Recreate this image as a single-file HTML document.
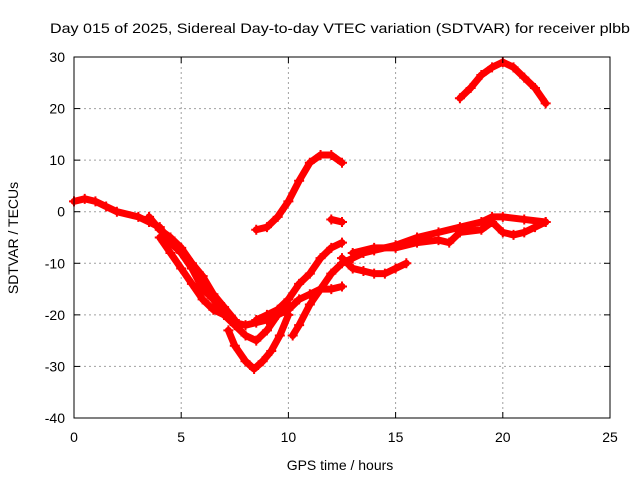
<!DOCTYPE html>
<html><head><meta charset="utf-8"><style>
body{margin:0;background:#fff}
svg{display:block;font-family:"Liberation Sans",sans-serif}
</style></head><body>
<svg id="chart" width="640" height="480">
<text x="340" y="33" text-anchor="middle" font-size="14" textLength="580" lengthAdjust="spacingAndGlyphs">Day 015 of 2025, Sidereal Day-to-day VTEC variation (SDTVAR) for receiver plbb</text>
<text x="340" y="470" text-anchor="middle" font-size="14">GPS time / hours</text>
<text transform="translate(18,238) rotate(-90)" text-anchor="middle" font-size="14">SDTVAR / TECUs</text>
<g id="grid"></g><g id="series"></g><g id="axes"></g>
</svg>
<script>
const xTicks=[0,5,10,15,20,25];
const yTicks=[30,20,10,0,-10,-20,-30,-40];
const seriesA=[[0,2],[0.5,2.5],[1,2],[1.5,1],[2,0],[3,-1],[3.5,-2],[4,-3],[4.5,-6],[5,-8],[5.5,-11],[6,-15],[6.5,-17],[7,-20],[7.5,-21.5],[8,-22],[8.5,-21.5],[9,-21],[9.5,-20],[10,-19],[10.5,-17],[11,-16],[11.5,-15],[12,-15],[12.5,-14.5]];
const seriesB=[[4,-5],[4.5,-8],[5,-11],[5.5,-14],[6,-17],[6.5,-19],[7,-20],[7.5,-22],[8,-24],[8.5,-25],[9,-23],[9.5,-20],[10,-18]];
const seriesC=[[7.2,-23],[7.5,-26],[8,-29],[8.4,-30.5],[8.8,-29],[9.2,-27],[9.6,-24],[10,-20]];
const seriesD=[[10.2,-24],[10.5,-22],[11,-18],[11.5,-15],[12,-12],[12.5,-10],[13,-9],[13.5,-8],[14,-7.5],[15,-6.5],[16,-5],[17,-4],[18,-3],[19,-2],[19.5,-1],[20,-1],[21,-1.5],[22,-2]];
const seriesE=[[8.5,-21],[9,-20],[9.5,-19],[10,-17],[10.5,-14],[11,-12],[11.5,-9],[12,-7],[12.5,-6]];
const seriesF=[[8.5,-3.5],[9,-3],[9.5,-1],[10,2],[10.5,6],[11,9.5],[11.5,11],[12,11],[12.5,9.5]];
const seriesG=[[12,-1.5],[12.5,-2]];
const seriesH=[[12.5,-9],[13,-11],[13.5,-11.5],[14,-12],[14.5,-12],[15,-11],[15.5,-10]];
const seriesI=[[13,-8],[14,-7],[15,-7],[16,-6],[17,-5.5],[17.5,-6],[18,-4],[19,-3.5],[19.5,-2],[20,-4],[20.5,-4.5],[21,-4],[21.5,-3],[22,-2]];
const seriesJ=[[18,22],[18.5,24],[19,26.5],[19.5,28],[20,29],[20.5,28],[21,26],[21.5,24],[22,21]];
const seriesK=[[3.5,-1],[4,-3.5],[4.5,-5],[5,-7],[5.5,-10],[6,-12.5],[6.5,-16],[7,-18.5],[7.5,-21]];
const allSeries=[seriesA,seriesB,seriesC,seriesD,seriesE,seriesF,seriesG,seriesH,seriesI,seriesJ,seriesK];
const X0=74,X1=610,Y0=418,Y1=57;
const xs=v=>X0+(v-0)/25*(X1-X0);
const ys=v=>Y0-(v+40)/70*(Y0-Y1);
const NS="http://www.w3.org/2000/svg";
function mk(t,a,p){const e=document.createElementNS(NS,t);for(const k in a)e.setAttribute(k,a[k]);p.appendChild(e);return e;}
const grid=document.getElementById('grid'),axes=document.getElementById('axes'),ser=document.getElementById('series');
xTicks.forEach(t=>{
 const x=xs(t);
 if(t>0&&t<25){const l=mk('line',{x1:x,x2:x,y1:Y1,y2:Y0,stroke:'#a0a0a0','stroke-dasharray':'2,3'},grid);
 
 }
 const tx=mk('text',{x:x,y:Y0+24,'text-anchor':'middle','font-size':14},axes);tx.textContent=t;
 
 
 mk('line',{x1:x,x2:x,y1:Y0,y2:Y0-6,stroke:'#000'},axes);
 mk('line',{x1:x,x2:x,y1:Y1,y2:Y1+6,stroke:'#000'},axes);
});
yTicks.forEach(t=>{
 const y=ys(t);
 if(t>-40&&t<30){const l=mk('line',{x1:X0,x2:X1,y1:y,y2:y,stroke:'#a0a0a0','stroke-dasharray':'2,3'},grid);
 
 }
 const tx=mk('text',{x:X0-9,y:y+5,'text-anchor':'end','font-size':14},axes);tx.textContent=t;
 
 
 mk('line',{x1:X0,x2:X0+6,y1:y,y2:y,stroke:'#000'},axes);
 mk('line',{x1:X1,x2:X1-6,y1:y,y2:y,stroke:'#000'},axes);
});
const fr=mk('rect',{x:X0,y:Y1,width:X1-X0,height:Y0-Y1,fill:'none',stroke:'#000'},axes);


allSeries.forEach((s,i)=>{
 const pts=s.map(p=>xs(p[0])+','+ys(p[1])).join(' ');
 const pl=mk('polyline',{points:pts,fill:'none',stroke:'#ff0000','stroke-width':7,'stroke-linejoin':'round','stroke-linecap':'round'},ser);
 
 
 s.forEach(p=>{const x=xs(p[0]),y=ys(p[1]);
  const m=mk('path',{d:`M${x-5},${y}H${x+5}M${x},${y-5}V${y+5}`,stroke:'#ff0000','stroke-width':2},ser);
  
  
 });
});
</script>
</body></html>
